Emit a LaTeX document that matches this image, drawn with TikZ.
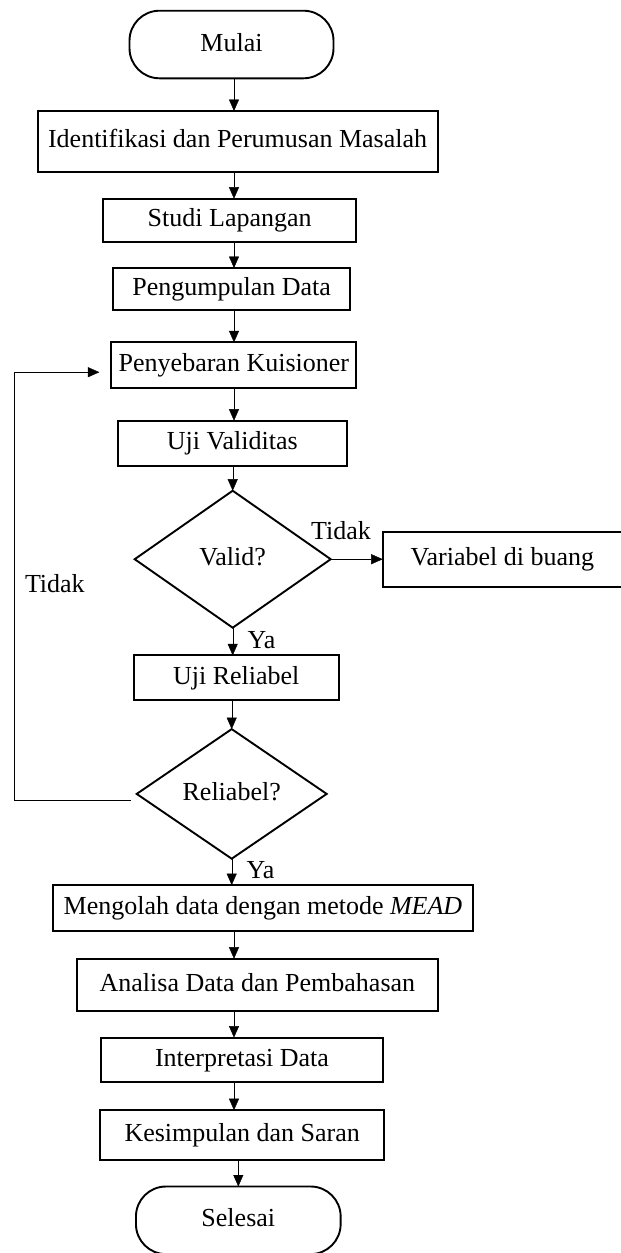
\documentclass[tikz,border=0pt]{standalone}
\usepackage{fontspec}
\setmainfont{Liberation Serif}
\usetikzlibrary{positioning, arrows.meta, shapes.geometric}
\tikzset{
    ->, % semua garis penghubung berpanah
    >={Triangle[length=11.5pt, width=10pt]}, % ujung panah segitiga penuh
    line width=1.3pt, % tebal garis penghubung
    teks/.style={font=\fontsize{26}{30}\selectfont, text height=19pt, text depth=6pt, inner sep=0pt, outer sep=0pt}, % huruf untuk semua tulisan
    proses/.style={teks, draw, rectangle, line width=1.9pt}, % kotak proses
    terminal/.style={proses, rounded corners=30pt, minimum width=204pt, minimum height=67.6pt}, % mulai / selesai
    keputusan/.style={teks, draw, diamond, line width=1.9pt}, % belah ketupat
    ket/.style={teks}, % tulisan Ya / Tidak
}
\begin{document}
\begin{tikzpicture}
                            \useasboundingbox (0,0) rectangle (621pt,-1253pt);
                            \coordinate (kiri) at (14pt,0);
                            \coordinate (jalur) at (234pt,0);
                            \node[terminal] (mulai) at (231.5pt,-44.5pt) {Mulai};
                            \node[proses, below=32.7pt of mulai, xshift=6.1pt, minimum width=400pt, minimum height=60.7pt] (identifikasi) {Identifikasi dan Perumusan Masalah};
                            \node[proses, below=27pt of identifikasi, xshift=-7.9pt, minimum width=253.4pt, minimum height=43.3pt] (studi) {Studi Lapangan};
                            \node[proses, below=26pt of studi, xshift=2pt, minimum width=236.8pt, minimum height=42.4pt] (kumpul) {Pengumpulan Data};
                            \node[proses, below=32pt of kumpul, xshift=2.2pt, minimum width=245pt, minimum height=45.6pt] (sebar) {Penyebaran Kuisioner};
                            \node[proses, below=32.7pt of sebar, xshift=-1.6pt, minimum width=228.5pt, minimum height=45.3pt] (validitas) {Uji Validitas};
                            \node[keputusan, below=24.7pt of validitas, xshift=0.4pt, minimum width=196pt, minimum height=137pt] (valid) {Valid?};
                            \node[proses, right=52pt of valid, minimum width=239.3pt, minimum height=55pt] (buang) {Variabel di buang};
                            \node[proses, below=27.7pt of valid, xshift=3.5pt, minimum width=204.7pt, minimum height=45pt] (ujirel) {Uji Reliabel};
                            \node[keputusan, below=28.7pt of ujirel, xshift=-4.5pt, minimum width=190pt, minimum height=129.6pt] (reliabel) {Reliabel?};
                            \node[proses, below=26.4pt of reliabel, xshift=31.3pt, minimum width=420.6pt, minimum height=46pt] (olah) {Mengolah data dengan metode \textit{MEAD}};
                            \node[proses, below=27.6pt of olah, xshift=-5.6pt, minimum width=360.4pt, minimum height=52.3pt] (analisa) {Analisa Data dan Pembahasan};
                            \node[proses, below=26.6pt of analisa, xshift=-15.4pt, minimum width=282pt, minimum height=44.3pt] (interpretasi) {Interpretasi Data};
                            \node[proses, below=28.3pt of interpretasi, xshift=0.2pt, minimum width=284pt, minimum height=50pt] (simpulan) {Kesimpulan dan Saran};
                            \node[terminal, below=26.3pt of simpulan, xshift=-3.9pt, minimum width=204.7pt] (selesai) {Selesai};
                            \coordinate (masuk) at ([xshift=-12pt, yshift=-7pt]sebar.west);
                            \coordinate (keluar) at ([xshift=-6pt, yshift=-6pt]reliabel.west);
                            \path
                            (mulai.south -| jalur) edge (identifikasi.north -| jalur)
                            (identifikasi.south -| jalur) edge (studi.north -| jalur)
                            (studi.south -| jalur) edge (kumpul.north -| jalur)
                            (kumpul.south -| jalur) edge (sebar.north -| jalur)
                            (sebar.south -| jalur) edge (validitas.north -| jalur)
                            (validitas.south -| valid.north) edge (valid.north)
                            (valid.south) edge node[ket, right=15pt]{Ya} (ujirel.north -| valid.south)
                            (valid.east) edge node[ket, above, pos=0.2, yshift=14pt]{Tidak} (buang.west)
                            (ujirel.south -| reliabel.north) edge (reliabel.north)
                            (reliabel.south) edge node[ket, right=15pt]{Ya} (olah.north -| reliabel.south)
                            (olah.south -| jalur) edge (analisa.north -| jalur)
                            (analisa.south -| jalur) edge (interpretasi.north -| jalur)
                            (interpretasi.south -| jalur) edge (simpulan.north -| jalur)
                            (simpulan.south -| selesai.north) edge (selesai.north);
                            \draw (keluar) -| (kiri |- masuk) node[ket, pos=0.75, right=11pt]{Tidak} -- (masuk);
                        \end{tikzpicture}
\end{document}
